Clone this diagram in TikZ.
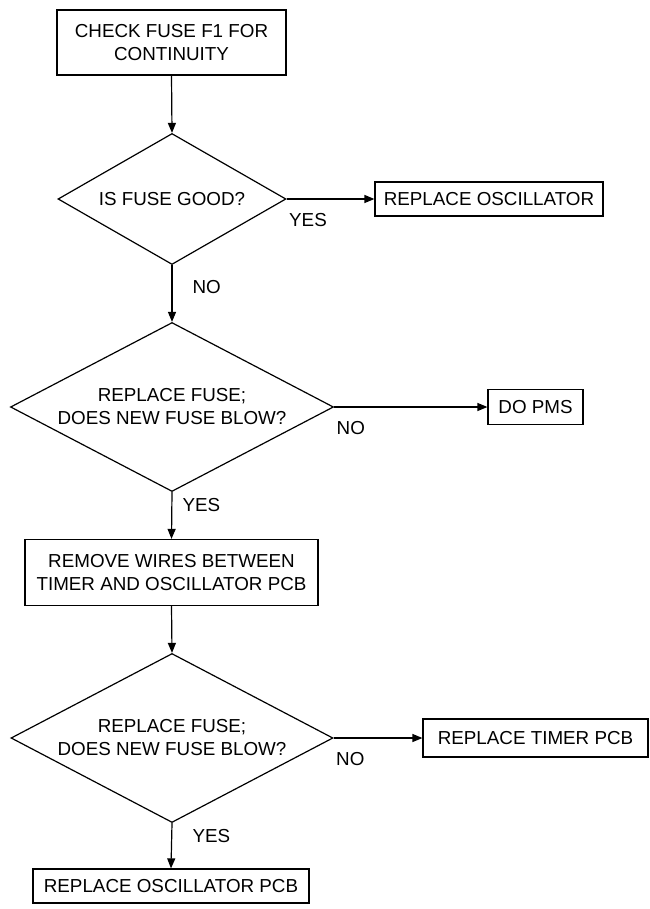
\documentclass[tikz,border=0pt]{standalone}
\usepackage{fontspec}
\setmainfont{Liberation Sans}
\usetikzlibrary{shapes.geometric,arrows.meta}
\newcommand{\chartfont}{\fontsize{18.8}{23}\selectfont}
\tikzset{
    stepbox/.style={draw=black,line width=1.2pt,inner sep=0pt,
        align=center,font=\chartfont},
    decision/.style={draw=black,diamond,aspect=2,line width=1.2pt,inner sep=0pt,
        align=center,font=\chartfont},
    arrow/.style={-{Triangle[length=10pt,width=8pt]},draw=black,line width=1.2pt},
    answer/.style={font=\chartfont,inner sep=0pt,anchor=north west,pos=0}
}

\begin{document}
\begin{tikzpicture}[x=1pt,y=-1pt]
        \useasboundingbox (0,0) rectangle (649,909);

        \node[stepbox,minimum width=229pt,minimum height=65pt] (check) at (171.5,42.5)
            {CHECK FUSE F1 FOR\\CONTINUITY};
        \node[decision,minimum width=228pt,minimum height=131pt] (fusegood) at (172,199)
            {IS FUSE GOOD?};
        \node[stepbox,minimum width=228pt,minimum height=34pt] (replosc) at (489,199)
            {REPLACE OSCILLATOR};

        \node[decision,minimum width=323pt,minimum height=169pt] (blowone) at (172,407)
            {REPLACE FUSE;\\DOES NEW FUSE BLOW?};
        \node[stepbox,minimum width=95pt,minimum height=35pt] (dopms) at (535.5,407)
            {DO PMS};

        \node[stepbox,minimum width=293pt,minimum height=66pt] (removewires) at (171.5,572.5)
            {REMOVE WIRES BETWEEN\\TIMER AND OSCILLATOR PCB};

        \node[decision,minimum width=322pt,minimum height=169pt] (blowtwo) at (172,738)
            {REPLACE FUSE;\\DOES NEW FUSE BLOW?};
        \node[stepbox,minimum width=225pt,minimum height=38pt] (timerpcb) at (535.5,738)
            {REPLACE TIMER PCB};

        \node[stepbox,minimum width=276pt,minimum height=34pt] (oscpcb) at (171,886)
            {REPLACE OSCILLATOR PCB};

        \draw[arrow] (check.south) -- (fusegood.north);
        \draw[arrow] (fusegood.east) -- node[answer,xshift=2pt,yshift=-14pt] {YES} (replosc.west);
        \draw[arrow] (fusegood.south) -- node[answer,xshift=20pt,yshift=-15pt] {NO} (blowone.north);
        \draw[arrow] (blowone.east) -- node[answer,xshift=2pt,yshift=-14pt] {NO} (dopms.west);
        \draw[arrow] (blowone.south) -- node[answer,xshift=10pt,yshift=-6pt] {YES} (removewires.north);
        \draw[arrow] (removewires.south) -- (blowtwo.north);
        \draw[arrow] (blowtwo.east) -- node[answer,xshift=2pt,yshift=-14pt] {NO} (timerpcb.west);
        \draw[arrow] (blowtwo.south) -- node[answer,xshift=20pt,yshift=-6pt] {YES} (oscpcb.north);
    \end{tikzpicture}
\end{document}
